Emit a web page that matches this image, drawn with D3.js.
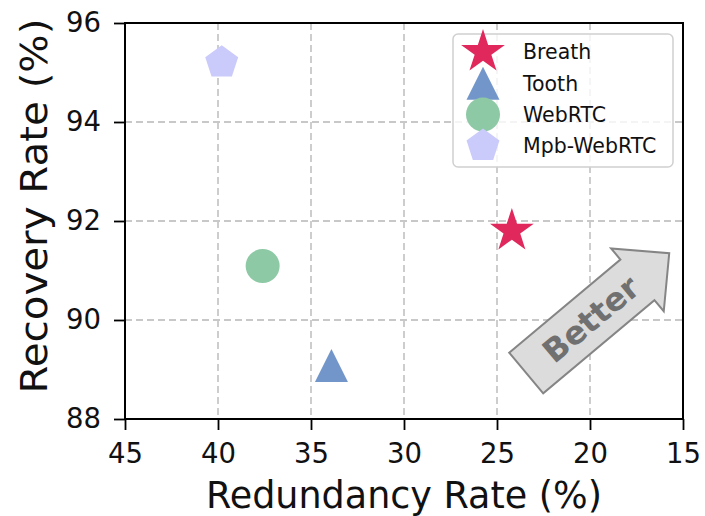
<!DOCTYPE html>
<html>
<head>
<meta charset="utf-8">
<script src="https://cdn.jsdelivr.net/npm/d3@7"></script>
<style>
  body { margin: 0; background: #fff; }
  svg { font-family: "DejaVu Sans", sans-serif; }
</style>
</head>
<body>
<div id="chart"></div>
<script>
var methods = ['Breath', 'Tooth', 'WebRTC', 'Mpb-WebRTC'];
var redundancy = [24.2, 33.9, 37.6, 39.8];
var recovery = [91.8, 89.08, 91.09, 95.2];
var shapes = ['star', 'triangle', 'circle', 'pentagon'];
var colors = ['#e0285c', '#7396ca', '#8dc9a5', '#cacafb'];
var xTicks = [45, 40, 35, 30, 25, 20, 15];
var yTicks = [88, 90, 92, 94, 96];
// annotation arrow, in data units: tail centre -> tip
var arrowFrom = [23.43, 88.93], arrowTo = [15.74, 91.35];

var width = 705, height = 516,
    margins = {top: 23, right: 22, bottom: 97, left: 125},
    w = width - margins.left - margins.right,
    h = height - margins.top - margins.bottom;

var svg = d3.select('#chart').append('svg')
    .attr('width', width).attr('height', height);

var x = d3.scaleLinear().domain([45, 15]).range([0, w]);
var y = d3.scaleLinear().domain([88, 96]).range([h, 0]);

var g = svg.append('g').attr('transform', 'translate(' + margins.left + ',' + margins.top + ')');

// grid
g.selectAll('.vgrid').data(xTicks).enter().append('line')
    .attr('x1', d => x(d)).attr('x2', d => x(d))
    .attr('y1', 0).attr('y2', h)
    .attr('stroke', '#c8c8c8').attr('stroke-width', 1.8).attr('stroke-dasharray', '7,4');
g.selectAll('.hgrid').data(yTicks).enter().append('line')
    .attr('x1', 0).attr('x2', w)
    .attr('y1', d => y(d)).attr('y2', d => y(d))
    .attr('stroke', '#c8c8c8').attr('stroke-width', 1.8).attr('stroke-dasharray', '7,4');

function markerPath(shape, r) {
    if (shape === 'star') return d3.symbol(d3.symbolStar, r * r / 0.8908130915)();
    if (shape === 'circle') return d3.symbol(d3.symbolCircle, Math.PI * r * r)();
    if (shape === 'triangle') return 'M0,' + (-r) + 'L' + r + ',' + r + 'L' + (-r) + ',' + r + 'Z';
    var pts = d3.range(5).map(function(i) {
        var a = -Math.PI / 2 + i * 2 * Math.PI / 5;
        return [r * Math.cos(a), r * Math.sin(a)];
    });
    return 'M' + pts.join('L') + 'Z';
}
var radius = {star: 23, triangle: 16.5, circle: 17, pentagon: 17.3};

// better arrow
var ax0 = x(arrowFrom[0]), ay0 = y(arrowFrom[1]),
    ax1 = x(arrowTo[0]), ay1 = y(arrowTo[1]);
var L = Math.hypot(ax1 - ax0, ay1 - ay0),
    ang = Math.atan2(ay1 - ay0, ax1 - ax0) * 180 / Math.PI,
    headLen = 41.5, sw = 26.5, hw = 41;
var arrow = g.append('g').attr('transform', 'translate(' + ax0 + ',' + ay0 + ') rotate(' + ang + ')');
arrow.append('path')
    .attr('d', d3.line()([[0, -sw], [L - headLen, -sw], [L - headLen, -hw], [L, 0],
        [L - headLen, hw], [L - headLen, sw], [0, sw]]) + 'Z')
    .attr('fill', '#dcdcdc').attr('stroke', '#858585').attr('stroke-width', 2)
    .attr('stroke-linejoin', 'miter');
arrow.append('text')
    .attr('x', 84).attr('y', 0).attr('dy', '0.36em')
    .attr('text-anchor', 'middle')
    .attr('font-size', 32).attr('font-weight', 'bold').attr('fill', '#707070')
    .text('Better');

// points
g.selectAll('.pt').data(methods).enter().append('path')
    .attr('d', (d, i) => markerPath(shapes[i], radius[shapes[i]]))
    .attr('transform', (d, i) => 'translate(' + x(redundancy[i]) + ',' + y(recovery[i]) + ')')
    .attr('fill', (d, i) => colors[i]);

// axes
var xAxis = d3.axisBottom(x).tickValues(xTicks).tickSizeInner(11).tickSizeOuter(0).tickPadding(13);
var yAxis = d3.axisLeft(y).tickValues(yTicks).tickSizeInner(11).tickSizeOuter(0).tickPadding(13);
var gx = g.append('g').attr('transform', 'translate(0,' + h + ')').call(xAxis);
var gy = g.append('g').call(yAxis);
[gx, gy].forEach(function(a) {
    a.select('.domain').remove();
    a.selectAll('line').attr('stroke', '#000').attr('stroke-width', 1.8);
    a.selectAll('text').attr('font-size', 27.5).attr('fill', '#111')
        .attr('font-family', '"DejaVu Sans", sans-serif');
});

g.append('rect').attr('width', w).attr('height', h)
    .attr('fill', 'none').attr('stroke', '#000').attr('stroke-width', 2);

// legend
var legend = g.append('g').attr('transform', 'translate(' + (453 - margins.left) + ',' + (34 - margins.top) + ')');
legend.append('rect').attr('width', 220).attr('height', 133).attr('rx', 5)
    .attr('fill', '#fff').attr('fill-opacity', 0.8)
    .attr('stroke', '#d0d0d0').attr('stroke-width', 1.5);
var rows = legend.selectAll('.row').data(methods).enter().append('g')
    .attr('transform', (d, i) => 'translate(30,' + (18 + i * 31.3) + ')');
rows.append('path').attr('d', (d, i) => markerPath(shapes[i], radius[shapes[i]]))
    .attr('fill', (d, i) => colors[i]);
rows.append('text').attr('x', 40).attr('dy', '0.36em')
    .attr('font-size', 20.5).attr('fill', '#111').text(d => d);

// axis labels
svg.append('text').attr('x', margins.left + w / 2).attr('y', 508)
    .attr('text-anchor', 'middle').attr('font-size', 36.5).attr('fill', '#111')
    .text('Redundancy Rate (%)');
svg.append('text').attr('transform', 'translate(47,206) rotate(-90) scale(1.09,1)')
    .attr('text-anchor', 'middle').attr('font-size', 37).attr('fill', '#111')
    .text('Recovery Rate (%)');
</script>
</body>
</html>
